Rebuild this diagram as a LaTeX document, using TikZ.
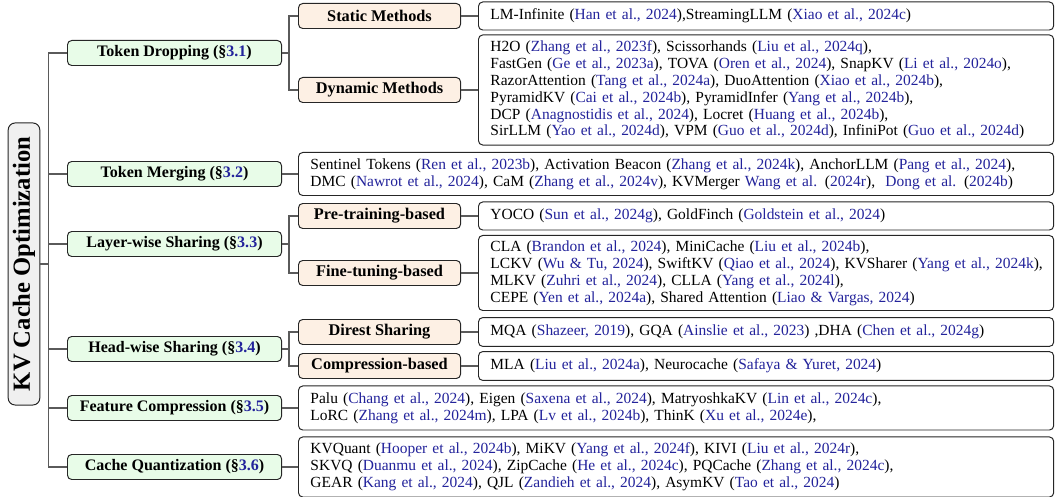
\documentclass[tikz,border=0pt]{standalone}
\usepackage{fontspec}
\setmainfont{Liberation Serif}

\definecolor{citeblue}{RGB}{35,35,155}
\definecolor{secgreen}{RGB}{232,252,232}
\definecolor{subpeach}{RGB}{253,240,228}
\definecolor{rootgray}{RGB}{240,240,240}
\definecolor{linkgray}{RGB}{90,90,90}
\newcommand{\ct}[1]{\textcolor{citeblue}{#1}}

\tikzset{
  box/.style = {draw = black!85, rounded corners = 3pt, line width = 0.7pt},
  rootbox/.style = {box, rounded corners = 5pt, fill = rootgray, rotate = 90, minimum width = 7.05cm, minimum height = 0.75cm, font = \fontsize{17.5}{18}\selectfont\bfseries},
  secbox/.style = {box, fill = secgreen, anchor = west, minimum width = 5.35cm, minimum height = 0.625cm, font = \fontsize{11.4}{12}\selectfont\bfseries},
  subbox/.style = {box, fill = subpeach, anchor = west, minimum width = 4.05cm, minimum height = 0.625cm, font = \fontsize{11.6}{12}\selectfont\bfseries},
  leafbox/.style = {box, fill = white, anchor = west, align = left, inner xsep = 0.3cm, text width = 13.775cm, font = \fontsize{11}{12}\selectfont},
  wideleaf/.style = {leafbox, text width = 18.275cm},
  link/.style = {draw = linkgray, line width = 0.9pt}
}

\begin{document}
\begin{tikzpicture}[x = 0.025cm, y = -0.025cm]

      \useasboundingbox (0, 0) rectangle (1055, 497);

      \node[rootbox] (root) at (24, 264) {KV Cache Optimization};

      % sections
      \node[secbox] (td) at (67, 53) {Token Dropping (\S\ct{3.1})};
      \node[secbox] (tm) at (67, 174) {Token Merging (\S\ct{3.2})};
      \node[secbox] (ls) at (67, 244) {Layer-wise Sharing (\S\ct{3.3})};
      \node[secbox] (hs) at (67, 349) {Head-wise Sharing (\S\ct{3.4})};
      \node[secbox] (fc) at (67, 408) {Feature Compression (\S\ct{3.5})};
      \node[secbox] (cq) at (67, 467) {Cache Quantization (\S\ct{3.6})};

      \node[subbox] (sm) at (298, 16) {Static Methods};
      \node[subbox] (dm) at (298, 90) {Dynamic Methods};
      \node[subbox] (pt) at (298, 216) {Pre-training-based};
      \node[subbox] (ft) at (298, 273) {Fine-tuning-based};
      \node[subbox] (ds) at (298, 332) {Direst Sharing};
      \node[subbox] (cb) at (298, 366) {Compression-based};

      % methods
      \node[leafbox, minimum height = 0.7cm] (smL) at (478, 16) {LM-Infinite (\ct{Han et al., 2024}),StreamingLLM (\ct{Xiao et al., 2024c})};
      \node[leafbox, minimum height = 2.75cm] (dmL) at (478, 90) {H2O (\ct{Zhang et al., 2023f}), Scissorhands (\ct{Liu et al., 2024q}),\\
        FastGen (\ct{Ge et al., 2023a}), TOVA (\ct{Oren et al., 2024}), SnapKV (\ct{Li et al., 2024o}),\\
        RazorAttention (\ct{Tang et al., 2024a}), DuoAttention (\ct{Xiao et al., 2024b}),\\
        PyramidKV (\ct{Cai et al., 2024b}), PyramidInfer (\ct{Yang et al., 2024b}),\\
        DCP (\ct{Anagnostidis et al., 2024}), Locret (\ct{Huang et al., 2024b}),\\
        SirLLM (\ct{Yao et al., 2024d}), VPM (\ct{Guo et al., 2024d}), InfiniPot (\ct{Guo et al., 2024d})};
      \node[wideleaf, minimum height = 1.075cm] (tmL) at (298, 174) {Sentinel Tokens (\ct{Ren et al., 2023b}), Activation Beacon (\ct{Zhang et al., 2024k}), AnchorLLM (\ct{Pang et al., 2024}),\\
        DMC (\ct{Nawrot et al., 2024}), CaM (\ct{Zhang et al., 2024v}), KVMerger \ct{Wang et al.} (\ct{2024r}),\ \ \ct{Dong et al.} (\ct{2024b})};
      \node[leafbox, minimum height = 0.7cm] (ptL) at (478, 216) {YOCO (\ct{Sun et al., 2024g}), GoldFinch (\ct{Goldstein et al., 2024})};
      \node[leafbox, minimum height = 1.875cm] (ftL) at (478, 273) {CLA (\ct{Brandon et al., 2024}), MiniCache (\ct{Liu et al., 2024b}),\\
        \mbox{LCKV (\ct{Wu \& Tu, 2024}), SwiftKV (\ct{Qiao et al., 2024}), KVSharer (\ct{Yang et al., 2024k}),}\\
        MLKV (\ct{Zuhri et al., 2024}), CLLA (\ct{Yang et al., 2024l}),\\
        CEPE (\ct{Yen et al., 2024a}), Shared Attention (\ct{Liao \& Vargas, 2024})};
      \node[leafbox, minimum height = 0.72cm] (dsL) at (478, 332) {MQA (\ct{Shazeer, 2019}), GQA (\ct{Ainslie et al., 2023}) ,DHA (\ct{Chen et al., 2024g})};
      \node[leafbox, minimum height = 0.72cm] (cbL) at (478, 366) {MLA (\ct{Liu et al., 2024a}), Neurocache (\ct{Safaya \& Yuret, 2024})};
      \node[wideleaf, minimum height = 1.1cm] (fcL) at (298, 408) {Palu (\ct{Chang et al., 2024}), Eigen (\ct{Saxena et al., 2024}), MatryoshkaKV (\ct{Lin et al., 2024c}),\\
        LoRC (\ct{Zhang et al., 2024m}), LPA (\ct{Lv et al., 2024b}), ThinK (\ct{Xu et al., 2024e}),};
      \node[wideleaf, minimum height = 1.5cm] (cqL) at (298, 467) {KVQuant (\ct{Hooper et al., 2024b}), MiKV (\ct{Yang et al., 2024f}), KIVI (\ct{Liu et al., 2024r}),\\
        SKVQ (\ct{Duanmu et al., 2024}), ZipCache (\ct{He et al., 2024c}), PQCache (\ct{Zhang et al., 2024c}),\\
        GEAR (\ct{Kang et al., 2024}), QJL (\ct{Zandieh et al., 2024}), AsymKV (\ct{Tao et al., 2024})};

      \foreach \s in {td, tm, ls, hs, fc, cq}
        \draw[link] (root.south) -- ++(8, 0) |- (\s.west);
      \foreach \a/\b in {td/sm, td/dm, ls/pt, ls/ft, hs/ds, hs/cb}
        \draw[link] (\a.east) -- ++(7, 0) |- (\b.west);
      \foreach \a/\b in {sm/smL, dm/dmL, tm/tmL, pt/ptL, ft/ftL, ds/dsL, cb/cbL, fc/fcL, cq/cqL}
        \draw[link] (\a.east) -- (\b.west);

\end{tikzpicture}
\end{document}
